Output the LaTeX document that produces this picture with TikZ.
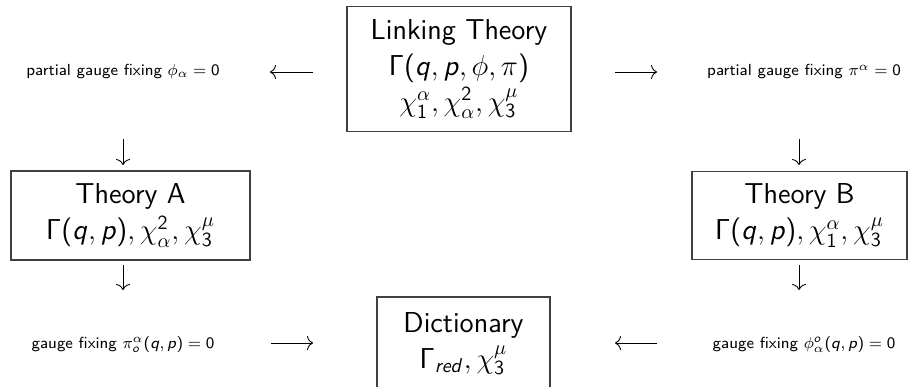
\documentclass[tikz,border=0pt]{standalone}
\usetikzlibrary{arrows.meta}
\DeclareSymbolFont{operators}{OT1}{cmss}{m}{n}
\DeclareMathAlphabet{\mathsfit}{OT1}{cmss}{m}{sl}
\newcommand{\myq}{\mathsfit{q}}
\newcommand{\myp}{\mathsfit{p}}
\tikzset{
  box/.style={draw=black!75, line width=0.6pt, inner sep=0pt, align=center, font=\Large\sffamily},
  lbl/.style={inner sep=0pt, font=\fontsize{8}{10}\selectfont\sffamily},
  arr/.style={line width=0.45pt, -{Computer Modern Rightarrow[length=3pt,width=7pt]}}
}
\begin{document}
\begin{tikzpicture}[x=0.5pt,y=-0.5pt]
\useasboundingbox (0,0) rectangle (914,386);
\clip (0,0) rectangle (914,386);
% boxes
\node[box, minimum width=112pt, minimum height=62.5pt] (link) at (459,69)
  {Linking Theory\\ $\Gamma(\myq,\myp,\phi,\pi)$\\ $\chi^\alpha_1,\chi^2_\alpha,\chi^\mu_3$};
\node[box, minimum width=119.5pt, minimum height=44.5pt] (tha) at (130.5,215.5)
  {Theory A\\ $\Gamma(\myq,\myp),\chi^2_\alpha,\chi^\mu_3$};
\node[box, minimum width=107.5pt, minimum height=44pt] (thb) at (799.5,215.5)
  {Theory B\\ $\Gamma(\myq,\myp),\chi^\alpha_1,\chi^\mu_3$};
\node[box, minimum width=86.5pt, minimum height=46.5pt] (dict) at (463.5,343.5)
  {Dictionary\\ $\Gamma_{\mathsfit{red}},\chi^\mu_3$};
% labels
\node[lbl] (pl) at (123,72) {partial gauge fixing $\phi_\alpha = 0$};
\node[lbl] (pr) at (804,72) {partial gauge fixing $\pi^\alpha = 0$};
\node[lbl] (gl) at (123,344) {gauge fixing $\pi^\alpha_{\mathsfit{o}}(\myq,\myp) = 0$};
\node[lbl] (gr) at (804,344) {gauge fixing $\phi^{\mathsfit{o}}_\alpha(\myq,\myp) = 0$};
% arrow end points
\coordinate (a1s) at (313,72); \coordinate (a1e) at (270,72);
\coordinate (a2s) at (615,72); \coordinate (a2e) at (657,72);
\coordinate (a3s) at (271,343); \coordinate (a3e) at (313,343);
\coordinate (a4s) at (657,343); \coordinate (a4e) at (615,343);
\coordinate (d1s) at (123,139); \coordinate (d1e) at (123,165);
\coordinate (d2s) at (123,265); \coordinate (d2e) at (123,290);
\coordinate (d3s) at (799,139); \coordinate (d3e) at (799,165);
\coordinate (d4s) at (799,265); \coordinate (d4e) at (799,290);
\draw[arr] (a1s) -- (a1e);
\draw[arr] (a2s) -- (a2e);
\draw[arr] (a3s) -- (a3e);
\draw[arr] (a4s) -- (a4e);
\draw[arr] (d1s) -- (d1e);
\draw[arr] (d2s) -- (d2e);
\draw[arr] (d3s) -- (d3e);
\draw[arr] (d4s) -- (d4e);
\end{tikzpicture}
\end{document}
